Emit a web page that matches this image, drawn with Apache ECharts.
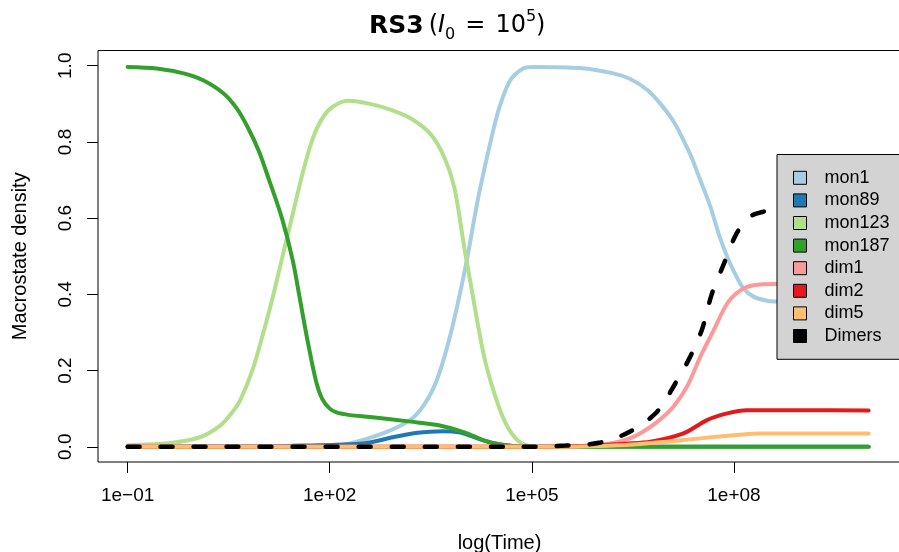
<!DOCTYPE html>
<html>
<head>
<meta charset="utf-8">
<title>RS3 macrostate density</title>
<script src="https://cdn.jsdelivr.net/npm/echarts@6/dist/echarts.min.js"></script>
<style>
  html, body { margin: 0; padding: 0; background: #fff; }
  #chart { width: 899px; height: 552px; }
</style>
</head>
<body>
<div id="chart"></div>
<script>
// x = log10(Time), y = macrostate density
const xTicks = [-1, 2, 5, 8]
const yTicks = [0, 0.2, 0.4, 0.6, 0.8, 1.0]

const mon1 = [[-1, 0], [1.5, 0.001], [2.0, 0.004], [2.3, 0.009], [2.79, 0.035], [3.19, 0.07], [3.4, 0.11],
  [3.59, 0.175], [3.8, 0.30], [4.02, 0.476], [4.2, 0.65], [4.41, 0.818], [4.53, 0.897], [4.68, 0.962],
  [4.87, 0.993], [5.02, 0.997], [5.72, 0.994], [6.21, 0.98], [6.46, 0.965], [6.71, 0.937], [6.91, 0.9],
  [7.10, 0.855], [7.23, 0.812], [7.37, 0.76], [7.50, 0.70], [7.65, 0.63], [7.79, 0.55], [7.92, 0.49],
  [8.04, 0.446], [8.14, 0.416], [8.29, 0.394], [8.49, 0.383], [8.64, 0.381], [10, 0.38]]

const mon89 = [[-1, 0], [1.0, 0.001], [1.56, 0.003], [2.1, 0.005], [2.55, 0.01], [2.94, 0.025], [3.3, 0.037],
  [3.68, 0.041], [3.94, 0.037], [4.19, 0.022], [4.43, 0.009], [4.72, 0.002], [5.0, 0], [10, 0]]

const mon123 = [[-1, 0.004], [-0.37, 0.01], [0.07, 0.025], [0.37, 0.055], [0.55, 0.09], [0.67, 0.122],
  [0.85, 0.2], [1.0, 0.29], [1.15, 0.39], [1.3, 0.5], [1.45, 0.61], [1.6, 0.72], [1.75, 0.81], [1.9, 0.865],
  [2.05, 0.893], [2.27, 0.908], [2.6, 0.90], [2.9, 0.885], [3.2, 0.862], [3.5, 0.82], [3.7, 0.76], [3.85, 0.68],
  [4.0, 0.52], [4.1, 0.42], [4.2, 0.32], [4.3, 0.23], [4.4, 0.165], [4.5, 0.11], [4.6, 0.066], [4.7, 0.035],
  [4.8, 0.015], [4.9, 0.005], [5.05, 0], [10, 0]]

const mon187 = [[-1, 0.997], [-0.57, 0.993], [-0.17, 0.98], [0.12, 0.962], [0.42, 0.928], [0.62, 0.888],
  [0.79, 0.836], [0.95, 0.775], [1.1, 0.70], [1.29, 0.60], [1.45, 0.49], [1.56, 0.385], [1.68, 0.27],
  [1.8, 0.17], [1.89, 0.125], [2.0, 0.10], [2.1, 0.09], [2.3, 0.083], [2.6, 0.078], [3.2, 0.066],
  [3.6, 0.057], [4.0, 0.038], [4.3, 0.016], [4.6, 0.004], [5.0, 0], [10, 0]]

const dim1 = [[-1, 0], [5.0, 0], [5.5, 0.001], [6.02, 0.0045], [6.51, 0.026], [7.01, 0.088], [7.30, 0.157],
  [7.50, 0.236], [7.70, 0.306], [7.90, 0.376], [8.10, 0.411], [8.29, 0.424], [8.64, 0.427], [10, 0.427]]

const dim2 = [[-1, 0], [5.0, 0], [5.5, 0.001], [6.0, 0.004], [6.4, 0.008], [6.76, 0.013], [7.25, 0.035],
  [7.60, 0.07], [7.90, 0.0875], [8.19, 0.096], [9.0, 0.096], [10, 0.095]]

const dim5 = [[-1, 0], [5.5, 0], [6.0, 0.002], [6.5, 0.006], [7.0, 0.013], [7.50, 0.022], [7.99, 0.03],
  [8.39, 0.035], [10, 0.035]]

const dimers = [[-1, 0], [5.0, 0], [5.5, 0.003], [6.02, 0.011], [6.46, 0.04], [6.86, 0.092], [7.13, 0.166],
  [7.35, 0.236], [7.53, 0.31], [7.67, 0.40], [7.85, 0.48], [8.04, 0.56], [8.24, 0.604], [8.44, 0.617],
  [8.6, 0.62], [10, 0.62]]

const seriesNames = ['mon1', 'mon89', 'mon123', 'mon187', 'dim1', 'dim2', 'dim5', 'Dimers']
const seriesData = [mon1, mon89, mon123, mon187, dim1, dim2, dim5, dimers]
const colors = ['#A6CEE3', '#1F78B4', '#B2DF8A', '#33A02C', '#FB9A99', '#E31A1C', '#FDBF6F', '#000000']

const font = 'Liberation Sans, Arial, Helvetica, sans-serif'
const texFont = 'DejaVu Sans, sans-serif'

function expLabel(v) {
  const n = Math.round(v)
  const a = Math.abs(n)
  return '1e' + (n < 0 ? '\u2212' : '+') + (a < 10 ? '0' + a : '' + a)
}

const series = seriesNames.map((name, i) => ({
  name: name,
  type: 'line',
  data: seriesData[i],
  smooth: 0.3,
  showSymbol: false,
  symbol: 'none',
  color: colors[i],
  lineStyle: name === 'Dimers'
    ? { color: colors[i], width: 4.5, type: [12, 21], cap: 'round' }
    : { color: colors[i], width: 4, cap: 'round' },
  emphasis: { disabled: true }
}))

const chart = echarts.init(document.getElementById('chart'), null, { renderer: 'canvas' })
chart.setOption({
  animation: false,
  backgroundColor: '#ffffff',
  textStyle: { fontFamily: font, color: '#000' },
  title: {
    left: 369,
    top: 9,
    padding: 0,
    text: '{b|RS3} {r|(}{i|I}{sub|0}{eq|=}{r|10}{sup|5}{r|)}',
    textStyle: {
      fontWeight: 'normal',
      rich: {
        b: { fontFamily: texFont, fontWeight: 'bold', fontSize: 25, lineHeight: 34, color: '#000' },
        r: { fontFamily: texFont, fontWeight: 'normal', fontSize: 24, lineHeight: 34, color: '#000' },
        eq: { fontFamily: texFont, fontWeight: 'normal', fontSize: 24, lineHeight: 34, padding: [0, 10, 0, 10], color: '#000' },
        i: { fontFamily: texFont, fontWeight: 'normal', fontStyle: 'italic', fontSize: 24, lineHeight: 34, color: '#000' },
        sub: { fontFamily: texFont, fontWeight: 'normal', fontSize: 16, lineHeight: 34, verticalAlign: 'bottom', color: '#000' },
        sup: { fontFamily: texFont, fontWeight: 'normal', fontSize: 16, lineHeight: 34, verticalAlign: 'top', color: '#000' }
      }
    }
  },
  grid: {
    left: 98,
    right: -2,
    top: 50.5,
    bottom: 90,
    show: true,
    containLabel: false,
    outerBoundsMode: 'none',
    borderColor: '#000',
    borderWidth: 1,
    backgroundColor: 'transparent'
  },
  legend: {
    data: seriesNames,
    orient: 'vertical',
    left: 777,
    top: 154.5,
    icon: 'rect',
    itemWidth: 13,
    itemHeight: 13,
    itemGap: 0,
    padding: [12, 40, 12, 16],
    backgroundColor: '#d3d3d3',
    borderColor: '#000',
    borderWidth: 1,
    borderRadius: 0,
    selectedMode: false,
    itemStyle: { borderColor: '#000', borderWidth: 1 },
    textStyle: { fontFamily: font, fontSize: 18, color: '#000', lineHeight: 22.6, padding: [0, 0, 0, 13] }
  },
  xAxis: {
    type: 'value',
    min: -1.44,
    max: 10.48,
    name: 'log(Time)',
    nameLocation: 'middle',
    nameGap: 71,
    nameTextStyle: { fontFamily: font, fontSize: 20, color: '#000' },
    axisLine: { show: false, onZero: false },
    splitLine: { show: false },
    axisTick: { show: true, length: 11, customValues: xTicks, lineStyle: { color: '#000', width: 1 } },
    axisLabel: {
      customValues: xTicks,
      margin: 24,
      fontFamily: font,
      fontSize: 19,
      color: '#000',
      formatter: expLabel
    }
  },
  yAxis: {
    type: 'value',
    min: -0.04,
    max: 1.04,
    name: 'Macrostate density',
    nameLocation: 'middle',
    nameGap: 68,
    nameTextStyle: { fontFamily: font, fontSize: 20, color: '#000' },
    axisLine: { show: false, onZero: false },
    splitLine: { show: false },
    axisTick: { show: true, length: 11, customValues: yTicks, lineStyle: { color: '#000', width: 1 } },
    axisLabel: {
      customValues: yTicks,
      rotate: 90,
      margin: 23,
      fontFamily: font,
      fontSize: 19,
      color: '#000',
      formatter: v => v.toFixed(1)
    }
  },
  series: series
})
</script>
</body>
</html>
